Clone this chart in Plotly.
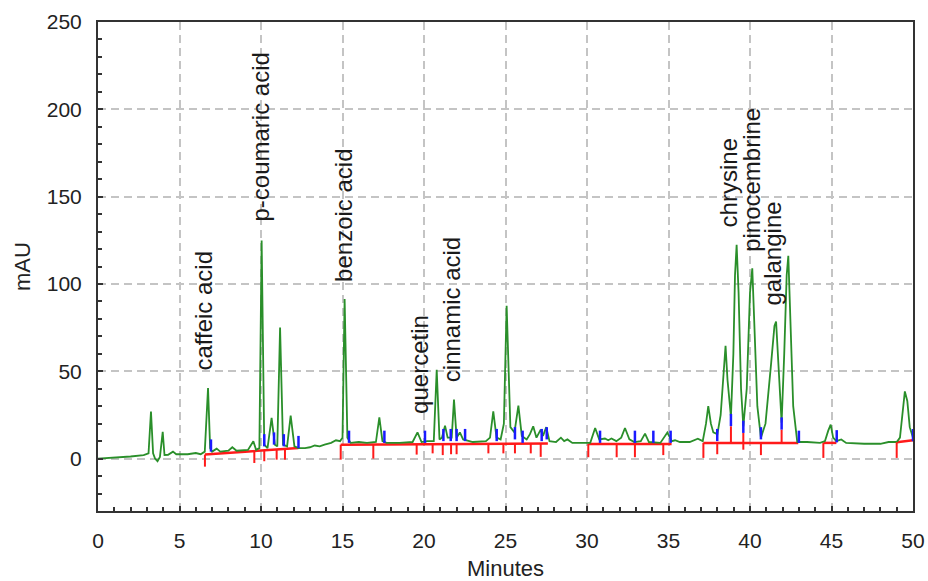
import plotly.graph_objects as go

# ---- chromatogram trace ----
trace_time = [0, 1.0, 2.0, 2.8, 3.1, 3.25, 3.38, 3.5, 3.65, 3.8, 3.97, 4.08, 4.3, 4.6, 4.8, 5.5, 5.8, 6.0, 6.3,
              6.55, 6.75, 6.88, 7.0, 7.28, 7.5, 8.0, 8.24, 8.5, 9.2, 9.53, 9.7, 9.9, 10.04, 10.2, 10.4, 10.65,
              10.85, 11.0, 11.17, 11.35, 11.6, 11.82, 12.05, 12.3, 12.7, 13.0, 13.3, 13.6, 13.9, 14.3, 14.6,
              14.85, 15.0, 15.13, 15.3, 15.5, 16.0, 16.5, 17.05, 17.26, 17.45, 17.7, 18.5, 19.3, 19.6, 19.85,
              20.2, 20.6, 20.78, 20.95, 21.1, 21.29, 21.45, 21.7, 21.84, 22.0, 22.2, 22.4, 23.0, 23.8, 24.05,
              24.25, 24.45, 24.7, 24.9, 25.07, 25.3, 25.55, 25.79, 26.0, 26.3, 26.5, 26.7, 26.9, 27.16, 27.3,
              27.5, 27.7, 28.1, 28.4, 28.6, 28.8, 29.1, 30.2, 30.5, 30.75, 31.1, 31.3, 31.5, 31.8, 32.1, 32.33,
              32.6, 32.9, 33.3, 33.56, 33.8, 34.5, 34.93, 35.2, 35.4, 35.7, 36.3, 36.8, 37.1, 37.3, 37.44, 37.6,
              37.75, 38.0, 38.2, 38.4, 38.5, 38.62, 38.83, 38.98, 39.08, 39.18, 39.3, 39.45, 39.59, 39.8, 40.0,
              40.14, 40.27, 40.45, 40.67, 40.95, 41.3, 41.5, 41.6, 41.72, 41.94, 42.1, 42.25, 42.35, 42.48,
              42.65, 42.9, 43.5, 44.3, 44.6, 44.8, 44.95, 45.1, 45.3, 45.6, 45.9, 47.0, 48.0, 48.5, 49.0, 49.2,
              49.35, 49.5, 49.65, 49.8, 50.0]
trace_mau = [0, 0.5, 1.2, 2, 3, 27, 3, 0, -1.5, 1, 15.3, 2, 2.2, 4, 2.5, 2.5, 3, 3.2, 2.5,
             4, 40.4, 6, 4, 5.7, 4, 4.5, 6.5, 4.5, 5, 9.9, 5, 6, 124.9, 8, 6, 23.3,
             8, 7, 75.1, 8, 7, 24.6, 7, 6, 6, 6.5, 7.5, 7, 8, 9, 10.5,
             10, 12, 91.4, 12, 9, 9.5, 9, 9.5, 23.6, 10, 9, 9, 9.5, 15, 9.5,
             10, 10, 50.9, 11, 12, 18.9, 12, 12, 33.8, 12, 15, 11, 9.5, 10, 12,
             27, 12, 11, 20, 87.5, 18, 15, 30.3, 13, 11, 14, 18.5, 12, 16.6, 13,
             18, 10, 9.5, 12, 10, 11, 9, 9, 17.5, 11, 11.5, 10.5, 11.5, 10, 12, 17.5,
             11, 9.5, 10, 14.3, 9.5, 9, 14.9, 10, 10.5, 9.5, 9.5, 11.4, 10, 20, 30, 20,
             15, 14, 25, 55, 64.6, 45, 24, 60, 105, 122.4, 95, 40, 18.5, 40, 95,
             109, 80, 30, 12, 20, 55, 76, 78.5, 60, 20.6, 60, 105, 116.1, 80,
             30, 9.5, 9.5, 9, 10, 16, 19.5, 12, 10, 11, 9, 8.5, 8.5, 9.5, 9.5, 12,
             25, 38.5, 33, 18, 12]

# ---- integration baselines (red) ----
base_t0 = [6.56, 14.89, 30.08, 37.14, 44.5, 49.0]
base_y0 = [2.3, 8.0, 8.4, 9.0, 9.0, 9.4]
base_t1 = [12.29, 27.6, 35.19, 42.96, 45.3, 50.0]
base_y1 = [6.1, 8.6, 8.4, 9.0, 9.0, 10.5]

# ---- red peak-start ticks ----
red_tick_t = [6.56, 9.59, 10.2, 10.96, 11.47, 14.89, 16.89, 19.55, 20.53, 21.15, 21.66, 22.0, 23.95, 24.87,
              25.58, 26.55, 27.16, 30.08, 31.82, 32.94, 34.68, 37.14, 37.99, 38.83, 39.59, 40.67, 41.94,
              44.5, 49.0]
red_tick_top = [2.3, 4.2, 4.8, 5.5, 5.7, 8.0, 8.0, 8.0, 8.0, 8.0, 8.0, 8.0, 8.2, 8.2,
                8.3, 8.4, 8.5, 8.4, 8.4, 8.4, 8.4, 9.0, 9.0, 18.5, 14.7, 9.0, 16.6,
                9.0, 9.4]
red_tick_bot = [-4.6, -2.5, -1.5, -0.6, -0.6, -0.6, 0, 2.3, 3, 2, 2.5, 2.5, 3, 3,
                3, 3, 1, 0.8, 0.8, 0.8, 2, 0.4, 2.5, 9.0, 5.1, 2, 9.0,
                0.4, 0.4]

# ---- blue peak-end ticks ----
blue_tick_t = [6.93, 10.2, 10.8, 11.4, 12.3, 15.4, 17.57, 20.06, 21.19, 21.64, 22.0, 22.52, 24.46, 25.58,
               26.05, 27.22, 27.53, 30.8, 32.94, 34.07, 35.13, 37.99, 38.83, 39.59, 40.67, 41.94, 43.0,
               45.32, 50.0]
blue_tick_bot = [4, 7, 8, 7, 6, 9, 9, 9, 10, 10, 10, 10, 10, 11,
                 9, 10, 11, 9, 9, 9, 9, 10, 18.6, 14.7, 11, 16.6, 9,
                 9.3, 10]

# ---- peak labels ----
label_text = ["caffeic acid", "p-coumaric acid", "benzoic acid", "quercetin", "cinnamic acid",
              "chrysine", "pinocembrine", "galangine"]
label_t = [6.45, 9.95, 15.05, 19.68, 21.7, 38.7, 40.05, 41.35]
label_y = [49.9, 135, 100.5, 25.2, 43.3, 132, 117.7, 87.1]

x_ticks = [0, 5, 10, 15, 20, 25, 30, 35, 40, 45, 50]
y_ticks = [0, 50, 100, 150, 200, 250]

BLUE_LEN = 7

fig = go.Figure()

# red baselines
bx, by = [], []
for a, ya, b, yb in zip(base_t0, base_y0, base_t1, base_y1):
    bx += [a, b, None]
    by += [ya, yb, None]
fig.add_trace(go.Scatter(x=bx, y=by, mode="lines", line=dict(color="#ff1a1a", width=2.5),
                         hoverinfo="skip", showlegend=False))

# green chromatogram
fig.add_trace(go.Scatter(x=trace_time, y=trace_mau, mode="lines",
                         line=dict(color="#2a8f2a", width=1.8), showlegend=False))

# red ticks
rx, ry = [], []
for t, a, b in zip(red_tick_t, red_tick_top, red_tick_bot):
    rx += [t, t, None]
    ry += [a, b, None]
fig.add_trace(go.Scatter(x=rx, y=ry, mode="lines", line=dict(color="#ff1a1a", width=2),
                         hoverinfo="skip", showlegend=False))

# blue ticks
ux, uy = [], []
for t, b in zip(blue_tick_t, blue_tick_bot):
    ux += [t, t, None]
    uy += [b, b + BLUE_LEN, None]
fig.add_trace(go.Scatter(x=ux, y=uy, mode="lines", line=dict(color="#1a1aff", width=2.5),
                         hoverinfo="skip", showlegend=False))

for txt, t, y in zip(label_text, label_t, label_y):
    fig.add_annotation(x=t, y=y, text=txt, textangle=-90, showarrow=False,
                       xanchor="center", yanchor="bottom", borderpad=0,
                       font=dict(family="Liberation Sans, Arial", size=24, color="#1a1a1a"))

axis_common = dict(
    showline=True, linecolor="#333333", linewidth=2, mirror=True,
    ticks="inside", ticklen=5, tickcolor="#333333", tickwidth=1.5,
    showgrid=True, gridcolor="#c4c4c4", gridwidth=1.5, griddash="8px,5px",
    zeroline=False, automargin=False,
    tickfont=dict(family="Liberation Sans, Arial", size=21, color="#222222"),
    ticklabelstandoff=10,
)

fig.update_xaxes(range=[0, 50], tickvals=x_ticks,
                 minor=dict(dtick=1, ticks="inside", ticklen=4, tickcolor="#333333", showgrid=False),
                 title=dict(text="Minutes", font=dict(family="Liberation Sans, Arial", size=22, color="#222222"),
                            standoff=14),
                 **axis_common)
fig.update_yaxes(range=[-30, 250], tickvals=y_ticks,
                 minor=dict(dtick=10, ticks="inside", ticklen=4, tickcolor="#333333", showgrid=False),
                 title=dict(text="mAU", font=dict(family="Liberation Sans, Arial", size=22, color="#222222"),
                            standoff=10),
                 **axis_common)

fig.update_layout(width=928, height=581, margin=dict(l=98, r=15, t=22, b=70),
                  plot_bgcolor="white", paper_bgcolor="white", showlegend=False)

fig.write_html("out.html")
